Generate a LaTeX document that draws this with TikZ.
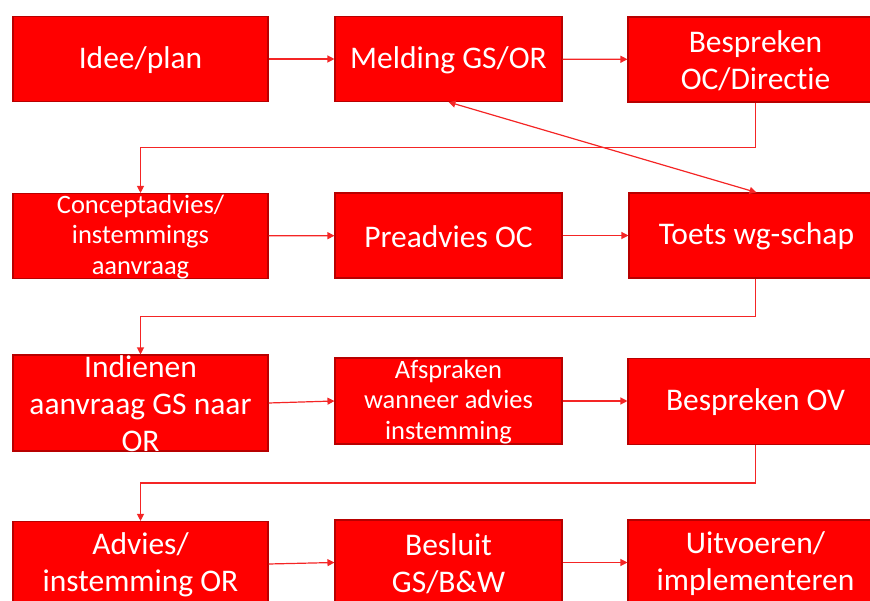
\documentclass[tikz,border=0pt]{standalone}
\usepackage{fontspec}
\setmainfont{Carlito}[Ligatures=NoCommon]
\usetikzlibrary{arrows.meta,calc}
\definecolor{boxred}{HTML}{FF0000}
\definecolor{edgered}{HTML}{B80000}
\definecolor{linered}{HTML}{F42525}
\begin{document}
\begin{tikzpicture}[x=1pt,y=-1pt,
  wbox/.style={draw=edgered, line width=1.1pt, fill=boxred, minimum width=255pt, minimum height=85pt, inner sep=0pt},
  nbox/.style={draw=edgered, line width=1.1pt, fill=boxred, minimum width=227pt, minimum height=85pt, inner sep=0pt},
  big/.style={text=white, font=\fontsize{31.5}{37}\selectfont, align=center, inner sep=0pt, yshift=-1pt},
  small/.style={text=white, font=\fontsize{26.5}{30.5}\selectfont, align=center, inner sep=0pt, yshift=-1pt},
  conn/.style={draw=linered, line width=1.2pt, -{Triangle[length=7pt,width=7pt]}},
  dconn/.style={draw=linered, line width=1.2pt, {Triangle[length=7pt,width=7pt]}-{Triangle[length=7pt,width=7pt]}}]
\path[use as bounding box, clip] (0,0) rectangle (870,601);
% row 1
\node[wbox] (b11) at (140.5,59) {};
\node[nbox] (b12) at (448.5,59) {};
\node[wbox] (b13) at (755.5,59.5) {};
% row 2
\node[wbox] (b21) at (140.5,236) {};
\node[nbox] (b22) at (448.5,235.5) {};
\node[wbox] (b23) at (756.5,235.5) {};
% row 3
\node[wbox, minimum height=96pt] (b31) at (140.5,403) {};
\node[nbox, minimum height=86pt] (b32) at (448.5,401) {};
\node[wbox, minimum height=86pt] (b33) at (755.5,401.5) {};
% row 4
\node[wbox] (b41) at (140.5,564) {};
\node[nbox] (b42) at (448.5,562.5) {};
\node[wbox] (b43) at (755.5,562.5) {};
% labels
\node[big] (t11) at (b11) {Idee/plan};
\node[big] (t12) at (b12) {Melding GS/OR};
\node[big] (t13) at (b13) {Bespreken\\OC/Directie};
\node[small] (t21) at (b21) {Conceptadvies/\\instemmings\\aanvraag};
\node[big] (t22) at (b22) {Preadvies OC};
\node[big] (t23) at (b23) {Toets wg-schap};
\node[big] (t31) at (b31) {Indienen\\aanvraag GS naar\\OR};
\node[small] (t32) at (b32) {Afspraken\\wanneer advies\\instemming};
\node[big] (t33) at (b33) {Bespreken OV};
\node[big] (t41) at (b41) {Advies/\\instemming OR};
\node[big] (t42) at (b42) {Besluit\\GS/B\&W};
\node[big] (t43) at (b43) {Uitvoeren/\\implementeren};
% connectors
\draw[conn] (b11) -- (b12);
\draw[conn] (b12) -- (b13);
\draw[conn] (b21) -- (b22);
\draw[conn] (b22) -- (b23);
\draw[conn] (b31.east) -- (b32.west);
\draw[conn] (b32) -- (b33.west |- b32);
\draw[conn] (b41.east) -- (b42.west);
\draw[conn] (b42) -- (b43.west |- b42);
\draw[conn] (b13.south) |- ($(b13.south)!.5!(b21.north)$) -| (b21.north);
\draw[conn] (b23.south -| b13) |- ($(b23.south)!.5!(b31.north)$) -| (b31.north);
\draw[conn] (b33.south) |- ($(b33.south)!.5!(b41.north)$) -| (b41.north);
\draw[dconn] (b12.south) -- (b23.north);
\end{tikzpicture}
\end{document}
